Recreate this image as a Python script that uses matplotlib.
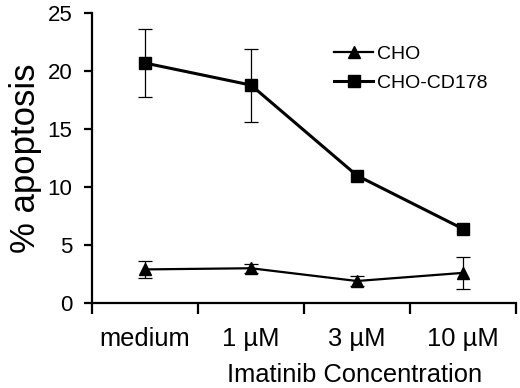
import numpy as np
import matplotlib
matplotlib.use("Agg")
import matplotlib.pyplot as plt
from matplotlib.lines import Line2D

plt.rcParams['font.family'] = ['Liberation Sans', 'DejaVu Sans']

# values
categories = ["medium", "1 \u00b5M", "3 \u00b5M", "10 \u00b5M"]
cho = [2.9, 3.0, 1.9, 2.6]
cho_err = [0.7, 0.4, 0.4, 1.4]
cd178 = [20.7, 18.8, 11.0, 6.4]
cd178_err = [2.9, 3.15, np.nan, np.nan]

x = np.arange(len(categories))

fig = plt.figure(figsize=(5.2, 3.88), dpi=100)
ax = fig.add_axes([0.177, 0.219, 0.815, 0.747])

ax.errorbar(x, cho, yerr=cho_err, color="black", lw=1.6, marker="^",
            markersize=9, elinewidth=0.9, capsize=5, capthick=0.9)
ax.errorbar(x, cd178, yerr=cd178_err, color="black", lw=2.2, marker="s",
            markersize=8.5, elinewidth=0.9, capsize=5, capthick=0.9)

ax.set_xlim(-0.5, 3.5)
ax.set_ylim(0, 25)
ax.set_yticks(range(0, 26, 5))
ax.set_xticks(np.arange(-0.5, 3.6, 1.0))
ax.set_xticklabels([])
ax.set_xticks(x, minor=True)
ax.set_xticklabels(categories, minor=True, fontsize=18.4)
ax.tick_params(axis="x", which="minor", length=0, pad=17)
ax.tick_params(axis="x", which="major", length=8, width=1.6, direction="out")
ax.tick_params(axis="y", length=6, width=1.6, labelsize=16, pad=8)

for s in ["top", "right"]:
    ax.spines[s].set_visible(False)
for s in ["left", "bottom"]:
    ax.spines[s].set_linewidth(1.6)

ax.set_ylabel("% apoptosis", fontsize=25, labelpad=4)
ax.set_xlabel("Imatinib Concentration", fontsize=18.4)
ax.xaxis.set_label_coords(0.62, -0.208)

handles = [
    Line2D([], [], color="black", lw=1.6, marker="^", markersize=9),
    Line2D([], [], color="black", lw=2.2, marker="s", markersize=8.5),
]
ax.legend(handles, ["CHO", "CHO-CD178"], loc="upper left",
          bbox_to_anchor=(0.53, 0.95), frameon=False,
          fontsize=14, handlelength=2.0, handletextpad=0.2, labelspacing=0.6)

fig.savefig("out.png", dpi=100)
